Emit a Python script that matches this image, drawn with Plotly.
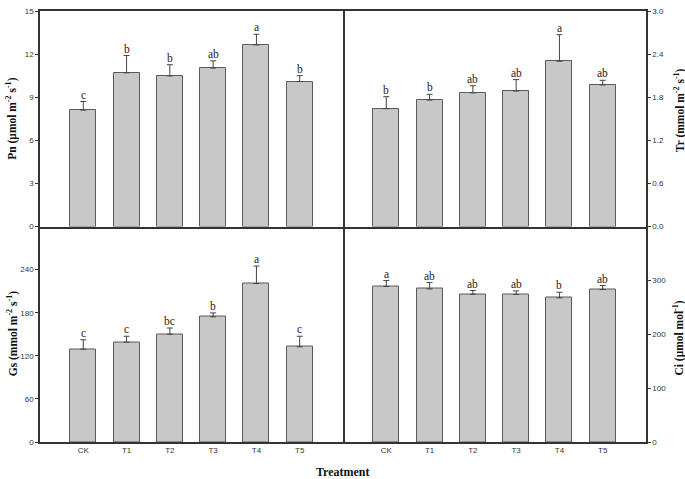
import plotly.graph_objects as go

categories = ["CK", "T1", "T2", "T3", "T4", "T5"]

pn_values = [8.1, 10.7, 10.48, 11.03, 12.64, 10.09]
pn_errors = [0.6, 1.2, 0.78, 0.5, 0.74, 0.41]
pn_letters = ["c", "b", "b", "ab", "a", "b"]

tr_values = [1.64, 1.76, 1.86, 1.885, 2.30, 1.97]
tr_errors = [0.167, 0.08, 0.10, 0.16, 0.37, 0.065]
tr_letters = ["b", "b", "ab", "ab", "a", "ab"]

gs_values = [129.3, 139.0, 150.0, 174.2, 220.6, 132.5]
gs_errors = [13.0, 8.2, 8.7, 5.5, 24.3, 14.7]
gs_letters = ["c", "c", "bc", "b", "a", "c"]

ci_values = [288.6, 284.2, 274.4, 273.8, 267.5, 283.0]
ci_errors = [11.0, 11.7, 6.8, 6.6, 10.5, 7.4]
ci_letters = ["a", "ab", "ab", "ab", "b", "ab"]

pn_ticks = [0, 3, 6, 9, 12, 15]
tr_ticks = [0.0, 0.6, 1.2, 1.8, 2.4, 3.0]
gs_ticks = [0, 60, 120, 180, 240]
ci_ticks = [0, 100, 200, 300]

titles = [
    "<b>Pn (μmol m<sup>-2</sup> s<sup>-1</sup>)</b>",
    "<b>Tr (mmol m<sup>-2</sup> s<sup>-1</sup>)</b>",
    "<b>Gs (mmol m<sup>-2</sup> s<sup>-1</sup>)</b>",
    "<b>Ci (μmol mol<sup>-1</sup>)</b>",
]

SERIF = "Liberation Serif, Times New Roman, serif"
SANS = "Liberation Sans, Arial, sans-serif"
BAR_FILL = "#c8c8c8"
BAR_LINE = "#5a5a5a"
AXIS = "#333333"

panels = [
    (pn_values, pn_errors, pn_letters, "x", "y"),
    (tr_values, tr_errors, tr_letters, "x2", "y2"),
    (gs_values, gs_errors, gs_letters, "x3", "y3"),
    (ci_values, ci_errors, ci_letters, "x4", "y4"),
]

fig = go.Figure()
annotations = []
for vals, errs, letters, xa, ya in panels:
    fig.add_trace(go.Bar(
        x=categories, y=vals, xaxis=xa, yaxis=ya, width=0.6,
        marker=dict(color=BAR_FILL, line=dict(color=BAR_LINE, width=1)),
        error_y=dict(type="data", symmetric=False, array=errs,
                     arrayminus=[0] * len(errs), color="#444444",
                     thickness=1, width=3),
        showlegend=False, hoverinfo="skip",
    ))
    for c, v, e, l in zip(categories, vals, errs, letters):
        annotations.append(dict(
            x=c, y=v + e, xref=xa, yref=ya, text=l, showarrow=False,
            yanchor="bottom", yshift=-1,
            font=dict(family=SERIF, size=11.5, color="#222222"),
        ))

title_pos = [(0, 0.75, -28), (1, 0.77, 33), (0, 0.25, -28), (1, 0.24, 33)]
for t, (px, py, xs) in zip(titles, title_pos):
    annotations.append(dict(
        x=px, y=py, xref="paper", yref="paper", xshift=xs, text=t,
        showarrow=False, textangle=-90, xanchor="center", yanchor="middle",
        font=dict(family=SERIF, size=11.5, color="#111111"),
    ))
annotations.append(dict(
    x=0.5, y=0, xref="paper", yref="paper", yshift=-30, text="<b>Treatment</b>",
    showarrow=False, xanchor="center", yanchor="middle",
    font=dict(family=SERIF, size=12, color="#111111"),
))

def xaxis(domain, anchor, show_labels, mirror):
    return dict(
        domain=domain, anchor=anchor, range=[-1, 6], type="category",
        showline=True, mirror=mirror, linecolor=AXIS, linewidth=1.5,
        ticks="", showticklabels=show_labels, showgrid=False, zeroline=False,
        tickfont=dict(family=SANS, size=8, color="#333333"),
    )

def yaxis(domain, anchor, rng, ticks, side, fmt, mirror):
    return dict(
        domain=domain, anchor=anchor, range=rng, tickvals=ticks,
        tickformat=fmt, side=side,
        showline=True, mirror=mirror, linecolor=AXIS, linewidth=1.5,
        ticks="outside", ticklen=3, tickcolor=AXIS, tickwidth=1,
        showgrid=False, zeroline=False,
        tickfont=dict(family=SANS, size=8, color="#333333"),
    )

fig.update_layout(
    width=685, height=479,
    margin=dict(l=40, r=39, t=7, b=37),
    paper_bgcolor="white", plot_bgcolor="white",
    xaxis=xaxis([0, 0.5], "y", False, True),
    xaxis2=xaxis([0.5, 1], "y2", False, True),
    xaxis3=xaxis([0, 0.5], "y3", True, False),
    xaxis4=xaxis([0.5, 1], "y4", True, False),
    yaxis=yaxis([0.5, 1], "x", [0, 15], pn_ticks, "left", "d", True),
    yaxis2=yaxis([0.5, 1], "x2", [0, 3], tr_ticks, "right", ".1f", False),
    yaxis3=yaxis([0, 0.5], "x3", [0, 300], gs_ticks, "left", "d", True),
    yaxis4=yaxis([0, 0.5], "x4", [0, 400], ci_ticks, "right", "d", False),
    annotations=annotations,
    bargap=0,
)

fig.write_html(
    "out.html",
    config={"displayModeBar": False},
    post_script="document.body.style.margin='0';document.body.style.overflow='hidden';",
)
